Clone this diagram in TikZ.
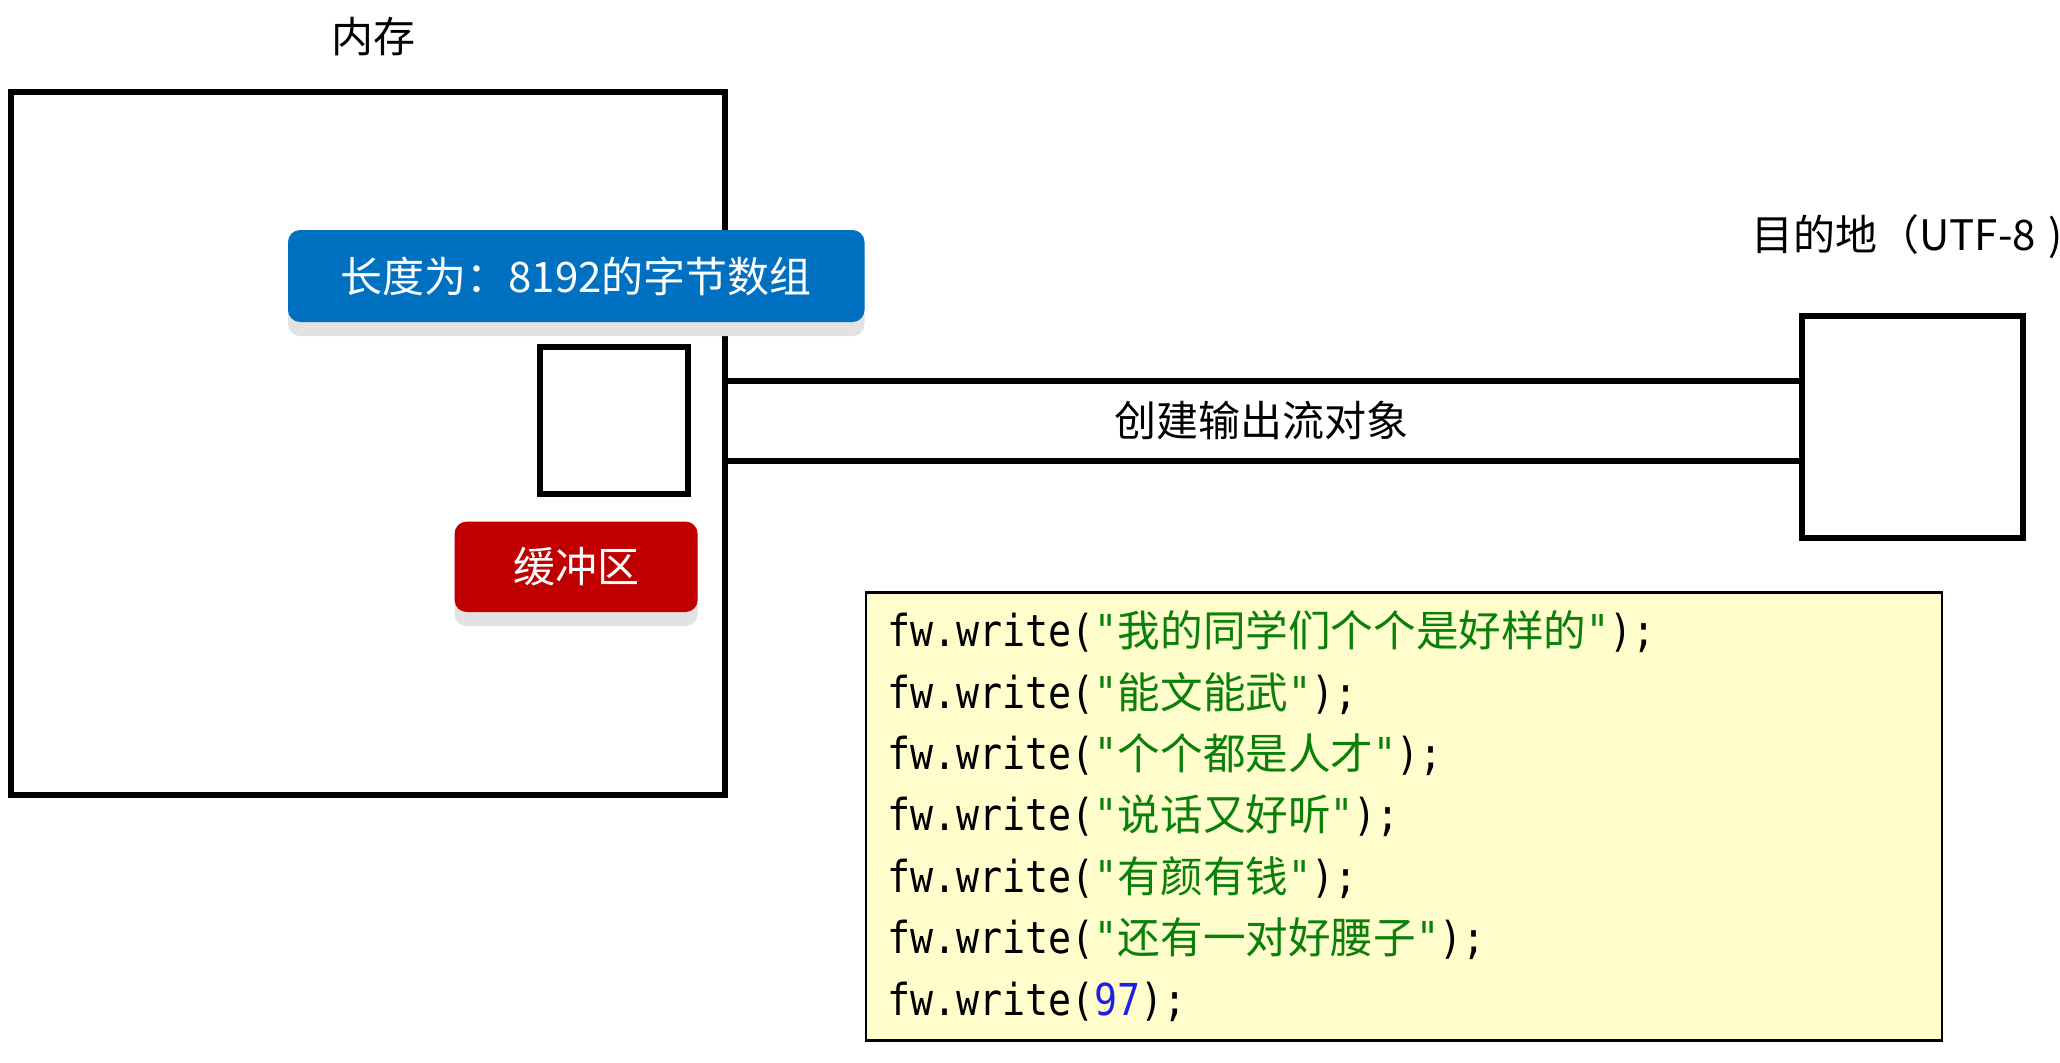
\documentclass[tikz,border=0pt]{standalone}
\usepackage{fontspec}
\setmainfont{Noto Sans CJK SC}
\newfontfamily\cjk{Noto Sans CJK SC}
\newfontfamily\codefont[FakeStretch=0.87]{DejaVu Sans Mono}
\usetikzlibrary{shadows}
\definecolor{tagblue}{RGB}{0,112,192}
\definecolor{tagred}{RGB}{192,0,0}
\definecolor{codebg}{RGB}{254,253,203}
\definecolor{strgreen}{RGB}{10,128,10}
\definecolor{numblue}{RGB}{30,30,230}
\definecolor{shadowgray}{RGB}{226,226,226}
\tikzset{
  frame/.style={draw=black, line width=3pt, fill=white, inner sep=0pt},
  lbl/.style={font=\fontsize{21}{25}\selectfont, inner sep=0pt, text=black},
  tag/.style={rounded corners=6pt, inner sep=0pt, text=white,
    font=\fontsize{21}{25}\selectfont,
    drop shadow={shadow xshift=0pt, shadow yshift=-7pt, fill=shadowgray, opacity=1}},
  chan/.style={draw=black, line width=3pt},
  codeline/.style={anchor=base west, inner sep=0pt, font=\codefont\fontsize{22}{26}\selectfont},
}
\newcommand{\cstr}[1]{\textcolor{strgreen}{"{\cjk\fontsize{21.3}{26}\selectfont #1}"}}
\begin{document}
\begin{tikzpicture}[x=0.5pt,y=-0.5pt]
\useasboundingbox (0,0) rectangle (2060,1062);

% memory
\node[lbl] (memlbl) at (373,37) {内存};
\node[frame, minimum width=357.25pt, minimum height=351.5pt] (mem) at (367.75,443.5) {};

% byte array tag
\node[tag, fill=tagblue, minimum width=288.25pt, minimum height=46pt] (arr) at (576.25,276) {长度为：8192的字节数组};

% small square
\node[frame, minimum width=74pt, minimum height=73.5pt] (buf) at (614,420.5) {};

% buffer tag
\node[tag, fill=tagred, minimum width=121.5pt, minimum height=45.2pt] (buftag) at (576.1,566.8) {缓冲区};

% destination
\node[lbl, anchor=west] (destlbl) at (1751,237) {目的地（UTF-8\hspace{0.3em})};
\node[frame, minimum width=110.5pt, minimum height=111pt] (dest) at (1912,426.5) {};

% channel
\coordinate (ctop) at (0,381);
\coordinate (cbot) at (0,461);
\draw[chan] (mem.east |- ctop) -- (dest.west |- ctop);
\draw[chan] (mem.east |- cbot) -- (dest.west |- cbot);
\node[lbl] (chlbl) at (1261,420) {创建输出流对象};

% code box
\node[draw=black, line width=1.2pt, fill=codebg, minimum width=537.9pt, minimum height=224pt, inner sep=0pt] (code) at (1403.9,816.5) {};
\node[codeline] (l1) at (887,646.7) {fw.write(\cstr{我的同学们个个是好样的});};
\node[codeline] (l2) at (887,708.1) {fw.write(\cstr{能文能武});};
\node[codeline] (l3) at (887,769.5) {fw.write(\cstr{个个都是人才});};
\node[codeline] (l4) at (887,830.9) {fw.write(\cstr{说话又好听});};
\node[codeline] (l5) at (887,892.3) {fw.write(\cstr{有颜有钱});};
\node[codeline] (l6) at (887,953.7) {fw.write(\cstr{还有一对好腰子});};
\node[codeline] (l7) at (887,1015.1) {fw.write(\textcolor{numblue}{97});};
\end{tikzpicture}
\end{document}
